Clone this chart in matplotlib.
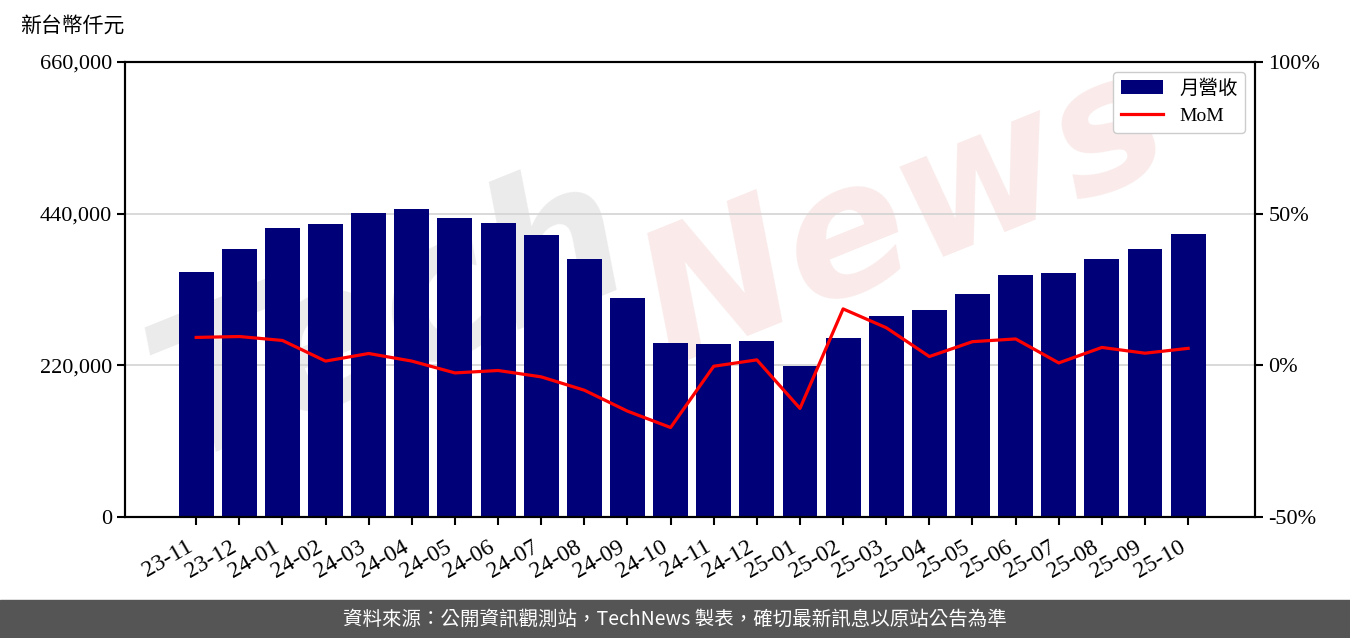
import numpy as np
import matplotlib.pyplot as plt
import matplotlib.transforms as mtransforms
from matplotlib.ticker import FuncFormatter

plt.rcParams['font.family'] = ['Liberation Serif', 'Noto Sans CJK TC', 'DejaVu Sans']

months = ["23-11", "23-12", "24-01", "24-02", "24-03", "24-04", "24-05", "24-06",
          "24-07", "24-08", "24-09", "24-10", "24-11", "24-12", "25-01", "25-02",
          "25-03", "25-04", "25-05", "25-06", "25-07", "25-08", "25-09", "25-10"]
# monthly revenue, thousand NTD
revenue = [355400, 388700, 419200, 425000, 441000, 446700, 433700, 426400,
           409000, 374200, 317600, 252400, 250900, 255300, 219500, 259600,
           291500, 300200, 323400, 351000, 353900, 374200, 388700, 410500]
# month over month, %
mom = [9.2, 9.5, 8.2, 1.4, 3.9, 1.4, -2.5, -1.7, -3.8, -8.2, -15.1, -20.5,
       -0.3, 1.8, -14.2, 18.6, 12.4, 2.9, 7.8, 8.7, 0.8, 5.9, 4.0, 5.6]

x = np.arange(len(months))

fig = plt.figure(figsize=(13.5, 6.38), dpi=100)
ax = fig.add_axes([125/1350, 1-517/638, 1130/1350, 455/638])
ax2 = ax.twinx()

ax.set_zorder(1)
ax2.set_zorder(2)
ax.patch.set_visible(False)

bars = ax.bar(x, revenue, width=0.81, color='#000078', label='月營收', zorder=2)
ax.set_ylim(0, 660000)
ax.set_yticks([0, 220000, 440000, 660000])
ax.yaxis.set_major_formatter(FuncFormatter(lambda v, p: f"{int(v):,}"))
ax.grid(axis='y', color='#d3d3d3', linewidth=1.2, zorder=0)
ax.set_axisbelow(True)
ax.set_xlim(-1.65, 24.55)
ax.set_xticks(x)
ax.set_xticklabels(months, rotation=30, ha='right', rotation_mode='anchor')

line, = ax2.plot(x, mom, color='red', linewidth=2.3, label='MoM')
ax2.set_ylim(-50, 100)
ax2.set_yticks([-50, 0, 50, 100])
ax2.yaxis.set_major_formatter(FuncFormatter(lambda v, p: f"{int(v)}%"))

for a in (ax, ax2):
    a.tick_params(labelsize=16, length=6, width=1.5, colors='black')
    for s in a.spines.values():
        s.set_linewidth(1.5)
ax.tick_params(axis='x', pad=8, labelsize=17)
shift = mtransforms.ScaledTranslation(-10/100, 0, fig.dpi_scale_trans)
for lbl in ax.get_xticklabels():
    lbl.set_transform(lbl.get_transform() + shift)

# watermark, behind the axes
fig.text(0.29, 0.50, "Tech", fontsize=140, color='#b0b0b0', alpha=0.25,
         rotation=22, ha='center', va='center', family='DejaVu Sans',
         fontstyle='italic', fontweight='bold', zorder=0.5)
fig.text(0.67, 0.66, "News", fontsize=130, color='#e8a0a0', alpha=0.22,
         rotation=22, ha='center', va='center', family='DejaVu Sans',
         fontstyle='italic', fontweight='bold', zorder=0.5)

leg = ax2.legend([bars, line], ['月營收', 'MoM'], loc='upper right',
                 fontsize=14, fancybox=True, framealpha=1,
                 bbox_to_anchor=(1.0, 1.0), handlelength=2.2)

fig.text(20/1350, 1-27/638, "新台幣仟元", fontsize=15, ha='left', va='center')

# footer band
fig.patches.append(plt.Rectangle((0, 0), 1, 38/638, transform=fig.transFigure,
                                 color='#555555', zorder=0))
fig.text(0.5, 19/638, "資料來源：公開資訊觀測站，TechNews 製表，確切最新訊息以原站公告為準",
         color='white', fontsize=14, ha='center', va='center',
         family=['Noto Sans CJK TC', 'DejaVu Sans'])

fig.savefig("out.png", dpi=100)
